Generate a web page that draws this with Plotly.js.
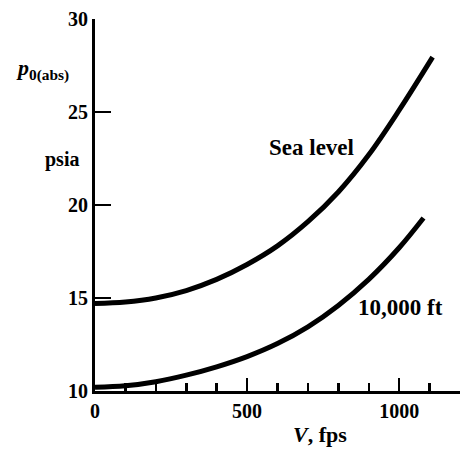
<!DOCTYPE html>
<html>
<head>
<meta charset="utf-8">
<script src="https://cdn.plot.ly/plotly-3.0.1.min.js"></script>
<style>
html,body{margin:0;padding:0;background:#fff;}
#chart{width:466px;height:449px;}
</style>
</head>
<body>
<div id="chart"></div>
<script>
// Flight speed V (fps) and total pressure p0 (psia)
var vSea = [0, 100, 200, 300, 400, 500, 600, 700, 800, 900, 1000, 1110];
var pSea = [14.7, 14.78, 15.0, 15.4, 16.0, 16.8, 17.8, 19.1, 20.7, 22.7, 25.1, 27.95];
var v10k = [0, 100, 200, 300, 400, 500, 600, 700, 800, 900, 1000, 1080];
var p10k = [10.2, 10.28, 10.5, 10.85, 11.3, 11.85, 12.55, 13.45, 14.6, 16.0, 17.7, 19.3];
var xTicks = [0, 500, 1000];
var yTicks = [10, 15, 20, 25, 30];

var font = "'Liberation Serif', 'Times New Roman', serif";
var traces = [
  {x: vSea, y: pSea, mode: 'lines', line: {color: '#000', width: 5, shape: 'spline', smoothing: 1}, hoverinfo: 'skip'},
  {x: v10k, y: p10k, mode: 'lines', line: {color: '#000', width: 5, shape: 'spline', smoothing: 1}, hoverinfo: 'skip'}
];

var layout = {
  width: 466, height: 449,
  margin: {l: 95, r: 6, t: 19, b: 58},
  paper_bgcolor: '#fff', plot_bgcolor: '#fff',
  showlegend: false,
  font: {family: font, color: '#000', size: 20},
  xaxis: {
    range: [0, 1200], tickvals: xTicks, ticktext: xTicks.map(String),
    ticks: 'inside', ticklen: 13, tickwidth: 2.5, tickcolor: '#000',
    minor: {dtick: 100, tick0: 0, ticks: 'inside', ticklen: 8, tickwidth: 2.5, tickcolor: '#000'},
    showline: true, linewidth: 3, linecolor: '#000', showgrid: false, zeroline: false,
    tickfont: {family: font, size: 20, color: '#000', weight: 'bold'},
    fixedrange: true
  },
  yaxis: {
    range: [10, 30], tickvals: yTicks, ticktext: yTicks.map(String),
    ticks: 'inside', ticklen: 16, tickwidth: 2.5, tickcolor: '#000',
    showline: true, linewidth: 3, linecolor: '#000', showgrid: false, zeroline: false,
    tickfont: {family: font, size: 20, color: '#000', weight: 'bold'},
    fixedrange: true
  },
  annotations: [
    {x: -0.145, y: 0.863, xref: 'paper', yref: 'paper', xanchor: 'center', yanchor: 'middle', showarrow: false,
     text: '<i>p</i><sub>0(abs)</sub>', font: {family: font, size: 22, color: '#000', weight: 'bold'}},
    {x: -0.090, y: 0.621, xref: 'paper', yref: 'paper', xanchor: 'center', yanchor: 'middle', showarrow: false,
     text: 'psia', font: {family: font, size: 20, color: '#000', weight: 'bold'}},
    {x: 713, y: 23.1, xref: 'x', yref: 'y', xanchor: 'center', yanchor: 'middle', showarrow: false,
     text: 'Sea level', font: {family: font, size: 23, color: '#000', weight: 'bold'}},
    {x: 1003, y: 14.5, xref: 'x', yref: 'y', xanchor: 'center', yanchor: 'middle', showarrow: false,
     text: '10,000 ft', font: {family: font, size: 23, color: '#000', weight: 'bold'}},
    {x: 0.616, y: -0.118, xref: 'paper', yref: 'paper', xanchor: 'center', yanchor: 'middle', showarrow: false,
     text: '<i>V</i>, fps', font: {family: font, size: 22, color: '#000', weight: 'bold'}}
  ]
};

Plotly.newPlot('chart', traces, layout, {displayModeBar: false, staticPlot: true});
</script>
</body>
</html>
